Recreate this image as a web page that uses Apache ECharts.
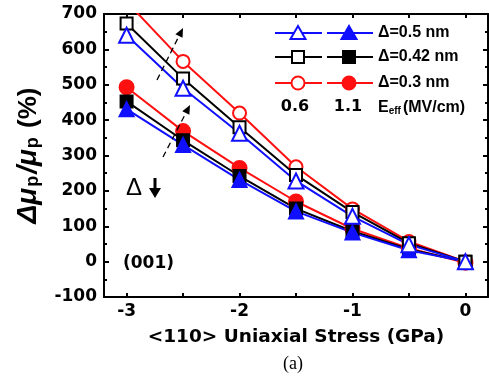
<!DOCTYPE html>
<html><head><meta charset="utf-8">
<script src="https://cdn.jsdelivr.net/npm/echarts@6/dist/echarts.min.js"></script>
<style>html,body{margin:0;padding:0;background:#fff}#c{width:489px;height:381px}</style>
</head><body><div id="c"></div>
<script>
const stress = [-3, -2.5, -2, -1.5, -1, -0.5, 0];
const xLabelValues = [-3, -2, -1, 0];
const xTickValues = [-3, -2.5, -2, -1.5, -1, -0.5, 0];
// open symbols: Eeff = 0.6 MV/cm ; filled: Eeff = 1.1 MV/cm
const d05_E06 = [640, 490, 363, 228, 128, 48, 0];
const d042_E06 = [673, 518, 380, 245, 140, 52, 0];
const d03_E06 = [735, 566, 420, 268, 149, 57, 0];
const d05_E11 = [431, 330, 231, 142, 82, 32, 0];
const d042_E11 = [453, 343, 242, 150, 86, 35, 0];
const d03_E11 = [493, 369, 265, 170, 93, 38, -3];
const legendNames = ['Δ=0.5 nm', 'Δ=0.42 nm', 'Δ=0.3 nm'];

const BLUE = '#1010ff', RED = '#ff1010', BLACK = '#000';
const FONT = '"Liberation Sans", Arial, sans-serif';
const WFONT = '"DejaVu Sans", "Liberation Sans", sans-serif';

function mk(data, color, symbol, filled, size) {
  return {
    type: 'line', data: stress.map((x, i) => [x, data[i]]),
    symbol: symbol, symbolSize: size, showSymbol: true,
    lineStyle: { color: color, width: 2 },
    itemStyle: { color: filled ? color : '#fff', borderColor: color, borderWidth: 2 },
    emphasis: { disabled: true }, animation: false, z: 2
  };
}

const chart = echarts.init(document.getElementById('c'));
const axisCommon = {
  axisLine: { show: true, onZero: false, lineStyle: { color: '#000', width: 2 } },
  splitLine: { show: false }
};
// legend graphic
const rows = [33, 57, 83];
const cols = [BLUE, BLACK, RED];
const g = [];
function marker(shape, cx, cy, color, filled) {
  const st = { fill: filled ? color : '#fff', stroke: color, lineWidth: 2 };
  if (shape === 'triangle') return { type: 'polygon', shape: { points: [[cx, cy - 7], [cx + 7.5, cy + 6], [cx - 7.5, cy + 6]] }, style: st, z: 10 };
  if (shape === 'rect') return { type: 'rect', shape: { x: cx - 6, y: cy - 6, width: 12, height: 12 }, style: st, z: 10 };
  return { type: 'circle', shape: { cx: cx, cy: cy, r: 6.5 }, style: st, z: 10 };
}
const shapes = ['triangle', 'rect', 'circle'];
rows.forEach((y, i) => {
  g.push({ type: 'line', shape: { x1: 275, y1: y, x2: 322, y2: y }, style: { stroke: cols[i], lineWidth: 2 }, z: 9 });
  g.push({ type: 'line', shape: { x1: 327, y1: y, x2: 373, y2: y }, style: { stroke: cols[i], lineWidth: 2 }, z: 9 });
  g.push(marker(shapes[i], 298, y, cols[i], false));
  g.push(marker(shapes[i], 349, y, cols[i], true));
  g.push({ type: 'text', x: 378, y: y, style: { text: legendNames[i], font: 'bold 16px ' + FONT, fill: '#000', textVerticalAlign: 'middle' }, z: 10 });
});
g.push({ type: 'text', x: 295, y: 107, style: { text: '0.6', font: 'bold 16px ' + WFONT, fill: '#000', textAlign: 'center', textVerticalAlign: 'middle' } });
g.push({ type: 'text', x: 348, y: 107, style: { text: '1.1', font: 'bold 16px ' + WFONT, fill: '#000', textAlign: 'center', textVerticalAlign: 'middle' } });
g.push({ type: 'text', x: 378, y: 107, style: { text: '{a|E}{b|eff}{a|(MV/cm)}', fill: '#000', textVerticalAlign: 'middle',
  rich: { a: { font: 'bold 16px ' + FONT, verticalAlign: 'bottom', lineHeight: 18 }, b: { font: 'bold 10px ' + FONT, verticalAlign: 'bottom', lineHeight: 16, padding: [0, 2, 0, 0] } } } });
// annotations
g.push({ type: 'text', x: 123, y: 264, style: { text: '(001)', font: 'bold 17px ' + WFONT, fill: '#000', textVerticalAlign: 'middle' } });
g.push({ type: 'text', x: 126, y: 188, style: { text: 'Δ', font: '24px ' + FONT, fill: '#000', textVerticalAlign: 'middle' } });
g.push({ type: 'line', shape: { x1: 155, y1: 178, x2: 155, y2: 192 }, style: { stroke: '#000', lineWidth: 3 } });
g.push({ type: 'polygon', shape: { points: [[149, 188], [161, 188], [155, 198]] }, style: { fill: '#000' } });
function arrow(x1, y1, x2, y2) {
  const dx = x2 - x1, dy = y2 - y1, L = Math.hypot(dx, dy), ux = dx / L, uy = dy / L;
  const bx = x2 - ux * 9, by = y2 - uy * 9;
  g.push({ type: 'line', shape: { x1: x1, y1: y1, x2: bx, y2: by }, style: { stroke: '#000', lineWidth: 1.3, lineDash: [6, 4] }, z: 8 });
  g.push({ type: 'polygon', shape: { points: [[x2, y2], [bx - uy * 4, by + ux * 4], [bx + uy * 4, by - ux * 4]] }, style: { fill: '#000' }, z: 8 });
}
arrow(157, 80, 183, 28);
arrow(163, 157, 190, 105);
g.push({ type: 'text', x: 293, y: 364, style: { text: '(a)', font: '18px "Liberation Serif", "DejaVu Serif", serif', fill: '#000', textAlign: 'center', textVerticalAlign: 'middle' } });

chart.setOption({
  animation: false,
  grid: { left: 104, right: 1, top: 14, bottom: 84, containLabel: false },
  xAxis: [
    Object.assign({ type: 'value', position: 'bottom', min: -3.2, max: 0.2,
      name: '<110> Uniaxial Stress (GPa)', nameLocation: 'middle', nameGap: 31,
      nameTextStyle: { fontFamily: WFONT, fontWeight: 'bold', fontSize: 18.5, color: '#000' },
      axisLabel: { customValues: xLabelValues, fontFamily: WFONT, fontWeight: 'bold', fontSize: 17, color: '#000', margin: 6 },
      axisTick: { customValues: xTickValues, inside: true, length: 4, lineStyle: { width: 2, color: '#000' } } }, axisCommon),
    Object.assign({ type: 'value', position: 'top', min: -3.2, max: 0.2,
      axisLabel: { show: false },
      axisTick: { customValues: xTickValues, inside: true, length: 4, lineStyle: { width: 2, color: '#000' } } }, axisCommon)
  ],
  yAxis: [
    Object.assign({ type: 'value', position: 'left', min: -100, max: 700, interval: 100,
      name: '{i|Δμ}{s|p}{i|/μ}{s|p}{n| (%)}', nameLocation: 'middle', nameGap: 62, nameRotate: 90,
      nameTextStyle: { color: '#000', rich: {
        i: { fontFamily: FONT, fontWeight: 'bold', fontStyle: 'italic', fontSize: 28, lineHeight: 30, verticalAlign: 'bottom' },
        s: { fontFamily: FONT, fontWeight: 'bold', fontSize: 18, lineHeight: 24, verticalAlign: 'bottom', padding: [0, 2, 0, 1] },
        n: { fontFamily: FONT, fontWeight: 'bold', fontSize: 26, lineHeight: 30, verticalAlign: 'bottom' } } },
      axisLabel: { fontFamily: WFONT, fontWeight: 'bold', fontSize: 17, color: '#000', margin: 7 },
      axisTick: { inside: true, length: 5, lineStyle: { width: 2, color: '#000' } },
      minorTick: { show: true, splitNumber: 2, length: 3, lineStyle: { width: 2, color: '#000' } } }, axisCommon),
    Object.assign({ type: 'value', position: 'right', min: -100, max: 700, interval: 100,
      axisLabel: { show: false },
      axisTick: { inside: true, length: 5, lineStyle: { width: 2, color: '#000' } },
      minorTick: { show: true, splitNumber: 2, length: 3, lineStyle: { width: 2, color: '#000' } } }, axisCommon)
  ],
  series: [
    mk(d03_E11, RED, 'circle', true, 14),
    mk(d042_E11, BLACK, 'rect', true, 12),
    mk(d05_E11, BLUE, 'triangle', true, 14),
    mk(d03_E06, RED, 'circle', false, 13),
    mk(d042_E06, BLACK, 'rect', false, 12),
    mk(d05_E06, BLUE, 'triangle', false, 15)
  ],
  graphic: g
});
</script></body></html>
